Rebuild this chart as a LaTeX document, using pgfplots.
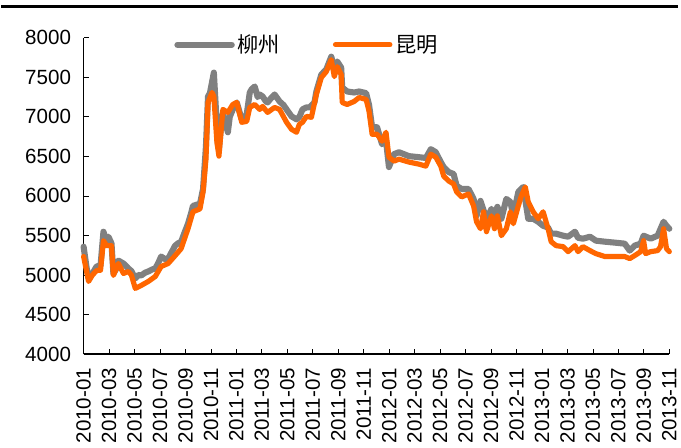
\documentclass[border=0pt]{standalone}
\usepackage{fontspec}
\setmainfont{Liberation Sans}
\newfontfamily\cjk{Noto Sans CJK SC}
\usepackage{pgfplots}
\pgfplotsset{compat=1.18}
\definecolor{lzgray}{HTML}{808080}
\definecolor{kmorange}{HTML}{FF6600}
\begin{document}
\begin{tikzpicture}
\begin{axis}[
  scale only axis,
  width=441.75pt, height=238.5pt,
  at={(0,0)}, anchor=south west,
  xmin=0, xmax=46, ymin=4000, ymax=8000,
  ytick={4000,4500,...,8000},
  xtick={0,2,...,46},
  xticklabels={2010-01,2010-03,2010-05,2010-07,2010-09,2010-11,2011-01,2011-03,2011-05,2011-07,2011-09,2011-11,2012-01,2012-03,2012-05,2012-07,2012-09,2012-11,2013-01,2013-03,2013-05,2013-07,2013-09,2013-11},
  axis x line*=bottom, axis y line*=left,
  axis line style={-, black, line width=0.8pt},
  tick align=inside,
  major tick length=4pt,
  tick style={black, line width=0.6pt},
  /pgf/number format/assume math mode=true,
  /pgf/number format/1000 sep={},
  ticklabel style={font=\fontsize{15.5}{18}\selectfont},
  xticklabel style={rotate=90, anchor=east},
  xticklabel shift=7pt,
  yticklabel style={xshift=-6pt},
  clip=false,
  legend columns=2,
  legend style={at={(0.1545,0.978)}, anchor=west, draw=none, fill=none,
    inner sep=0pt, font=\cjk\fontsize{16}{18}\selectfont,
    /tikz/every even column/.append style={column sep=38pt}},
  legend image code/.code={\draw[#1] (0pt,0pt) -- (41pt,0pt);},
]
\addplot[lzgray, line width=4.6pt, line join=round, line cap=round] coordinates {
(0,5358) (0.23,5100) (0.39,4956) (0.70,5020) (1.02,5107) (1.33,5120) (1.56,5547) (1.80,5420) (1.95,5484) (2.19,5400) (2.34,5019) (2.58,5080) (2.73,5182) (2.97,5160) (3.13,5145) (3.52,5082) (3.75,5050) (4.06,4956) (4.30,5000) (4.53,4994) (4.84,5030) (5.08,5044) (5.39,5070) (5.63,5082) (5.86,5150) (6.09,5233) (6.41,5200) (6.64,5207) (6.95,5300) (7.19,5371) (7.42,5400) (7.66,5421) (7.89,5520) (8.20,5648) (8.44,5780) (8.59,5874) (8.91,5890) (9.14,5900) (9.38,6088) (9.61,6629) (9.77,7258) (9.92,7300) (10.08,7434) (10.23,7560) (10.39,7100) (10.55,6650) (10.63,6591) (10.78,6850) (10.94,7056) (11.09,6950) (11.33,6805) (11.48,7000) (11.72,7094) (12.03,7182) (12.27,7050) (12.42,6969) (12.66,7000) (12.81,7031) (13.05,7308) (13.20,7350) (13.44,7384) (13.67,7250) (13.83,7283) (14.06,7258) (14.30,7200) (14.45,7182) (14.69,7230) (15.00,7283) (15.39,7195) (15.70,7150) (15.94,7094) (16.33,7006) (16.72,6969) (16.95,7000) (17.19,7094) (17.50,7119) (17.73,7119) (18.13,7182) (18.28,7321) (18.67,7535) (19.06,7600) (19.45,7761) (19.69,7623) (19.92,7700) (20.23,7623) (20.31,7371) (20.70,7321) (21.25,7308) (21.64,7321) (22.19,7300) (22.42,7150) (22.66,6868) (23.05,6868) (23.44,6654) (23.75,6700) (23.98,6365) (24.38,6528) (24.77,6553) (25.55,6503) (26.33,6490) (26.88,6480) (27.27,6591) (27.66,6553) (28.05,6428) (28.28,6365) (28.67,6302) (29.06,6277) (29.30,6126) (29.69,6088) (30.23,6088) (30.63,5962) (30.86,5748) (31.17,5937) (31.41,5820) (31.64,5700) (32.03,5836) (32.27,5750) (32.50,5862) (32.81,5711) (33.20,5962) (33.52,5924) (33.75,5748) (34.14,6050) (34.38,6088) (34.53,6113) (34.92,5711) (35.31,5711) (35.70,5673) (36.09,5622) (36.48,5600) (36.72,5522) (37.11,5522) (37.66,5497) (38.05,5484) (38.59,5547) (38.83,5470) (39.22,5459) (39.77,5484) (40.23,5434) (40.94,5421) (41.72,5409) (42.50,5396) (42.89,5308) (43.28,5371) (43.75,5396) (43.98,5497) (44.53,5459) (45.08,5497) (45.55,5673) (45.78,5622) (46.0,5585)
};
\addlegendentry{柳州}
\addplot[kmorange, line width=3.9pt, line join=round, line cap=round] coordinates {
(0,5233) (0.23,5050) (0.39,4918) (0.70,5000) (1.02,5056) (1.33,5060) (1.56,5434) (1.80,5371) (2.19,5371) (2.34,4994) (2.73,5145) (3.13,5019) (3.52,5044) (3.75,5000) (4.06,4830) (4.53,4868) (5.08,4918) (5.63,4981) (6.09,5107) (6.64,5145) (7.19,5245) (7.66,5333) (8.20,5585) (8.59,5799) (9.14,5836) (9.38,6050) (9.61,6465) (9.77,7182) (10.08,7308) (10.23,7258) (10.47,6679) (10.63,6503) (10.94,7094) (11.33,7056) (11.72,7157) (12.03,7182) (12.42,6931) (12.81,6943) (13.05,7119) (13.44,7157) (13.83,7094) (14.06,7132) (14.45,7056) (15.00,7119) (15.39,7094) (15.94,6931) (16.33,6843) (16.72,6805) (16.95,6906) (17.19,6931) (17.50,7006) (17.89,6994) (18.28,7283) (18.67,7497) (19.06,7572) (19.45,7723) (19.69,7509) (19.92,7635) (20.23,7535) (20.31,7182) (20.70,7157) (21.25,7195) (21.64,7245) (22.19,7220) (22.42,7069) (22.66,6780) (23.05,6780) (23.44,6692) (23.75,6805) (23.98,6490) (24.38,6440) (24.77,6465) (25.55,6428) (26.33,6402) (26.88,6377) (27.27,6528) (27.66,6490) (28.05,6377) (28.28,6251) (28.67,6189) (29.06,6151) (29.30,6050) (29.69,5987) (30.23,6025) (30.63,5874) (30.86,5673) (31.17,5585) (31.41,5799) (31.64,5547) (32.03,5748) (32.27,5585) (32.50,5748) (32.81,5497) (33.20,5585) (33.52,5799) (33.75,5648) (34.14,5874) (34.38,6000) (34.69,6113) (34.92,5924) (35.31,5799) (35.70,5711) (36.09,5799) (36.48,5585) (36.72,5421) (37.11,5371) (37.66,5358) (38.05,5295) (38.59,5371) (38.83,5295) (39.22,5358) (39.77,5308) (40.23,5270) (40.94,5233) (41.72,5233) (42.50,5233) (42.89,5207) (43.28,5245) (43.75,5295) (43.98,5434) (44.14,5270) (44.53,5295) (45.08,5308) (45.31,5358) (45.55,5585) (45.78,5333) (46.0,5295)
};
\addlegendentry{昆明}
\end{axis}
\draw[black, line width=1.6pt] (-62.25pt,262.1pt) -- (448.5pt,262.1pt);
\path[use as bounding box] (-62.25pt,-70.5pt) rectangle (448.5pt,267pt);
\end{tikzpicture}
\end{document}
